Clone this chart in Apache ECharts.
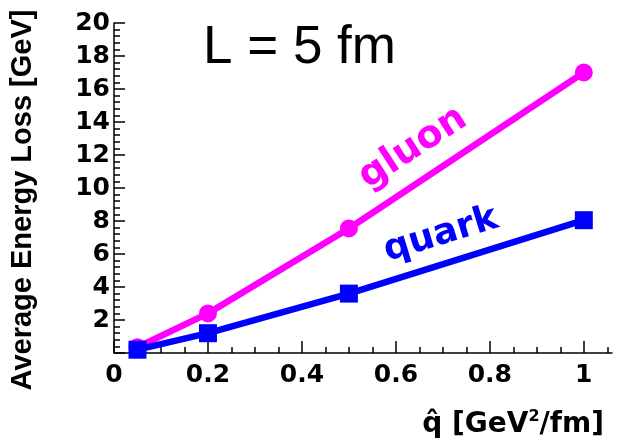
<!DOCTYPE html>
<html>
<head>
<meta charset="utf-8">
<script src="https://cdn.jsdelivr.net/npm/echarts@6/dist/echarts.min.js"></script>
<style>
html,body{margin:0;padding:0;background:#fff;}
#chart{width:642px;height:441px;}
</style>
</head>
<body>
<div id="chart"></div>
<script>
// Data
var qhat = [0.05, 0.2, 0.5, 1.0];
var gluonLoss = [0.35, 2.4, 7.55, 17.0];
var quarkLoss = [0.2, 1.2, 3.6, 8.05];
var xMajorTicks = [0, 0.2, 0.4, 0.6, 0.8, 1];
var xMinorTicks = [0.05, 0.1, 0.15, 0.25, 0.3, 0.35, 0.45, 0.5, 0.55, 0.65, 0.7, 0.75, 0.85, 0.9, 0.95, 1.05];

var chart = echarts.init(document.getElementById('chart'), null, {renderer: 'canvas'});

function pairs(xs, ys) { return xs.map(function (x, i) { return [x, ys[i]]; }); }

var tickFont = 'DejaVu Sans';
var option = {
  backgroundColor: '#ffffff',
  animation: false,
  grid: {left: 107, right: 30, top: 23, bottom: 88, containLabel: false},
  xAxis: [{
    type: 'value', min: 0, max: 1.06, interval: 0.2, position: 'bottom',
    name: 'q\u0302 [GeV{sup|2}/fm]',
    nameLocation: 'end', nameGap: -8,
    nameTextStyle: {
      fontFamily: tickFont, fontWeight: 'bold', fontSize: 28, color: '#000',
      align: 'right', verticalAlign: 'top', padding: [56, 0, 0, 0],
      rich: {sup: {fontFamily: tickFont, fontWeight: 'bold', fontSize: 16, color: '#000', verticalAlign: 'bottom', padding: [0, 0, 15, 0]}}
    },
    axisLine: {show: true, onZero: false, lineStyle: {color: '#000', width: 1.5}},
    axisTick: {show: true, inside: true, length: 12, customValues: xMajorTicks, lineStyle: {color: '#000', width: 1.5}},
    axisLabel: {show: true, customValues: xMajorTicks, margin: 10, fontFamily: tickFont, fontWeight: 'bold', fontSize: 25, color: '#000'},
    splitLine: {show: false}
  }, {
    type: 'value', min: 0, max: 1.06, position: 'bottom',
    axisLine: {show: false},
    axisTick: {show: true, inside: true, length: 6, customValues: xMinorTicks, lineStyle: {color: '#000', width: 1.5}},
    axisLabel: {show: false},
    splitLine: {show: false}
  }],
  yAxis: {
    type: 'value', min: 0, max: 20, interval: 2,
    name: 'Average Energy Loss [GeV]',
    nameLocation: 'middle', nameGap: 77, nameRotate: 90,
    nameTextStyle: {fontFamily: 'Liberation Sans', fontWeight: 'bold', fontSize: 29, color: '#000', padding: [0, 24, 0, 0]},
    axisLine: {show: true, lineStyle: {color: '#000', width: 1.5}},
    axisTick: {show: true, inside: true, length: 11, lineStyle: {color: '#000', width: 1.5}},
    minorTick: {show: true, splitNumber: 5, length: 6, lineStyle: {color: '#000', width: 1.5}},
    axisLabel: {margin: 4, fontFamily: tickFont, fontWeight: 'bold', fontSize: 25, color: '#000',
      formatter: function (v) { return v === 0 ? '' : String(v); }},
    splitLine: {show: false}
  },
  series: [{
    name: 'gluon', type: 'line', data: pairs(qhat, gluonLoss),
    symbol: 'circle', symbolSize: 18,
    lineStyle: {color: '#ff00ff', width: 6.5},
    itemStyle: {color: '#ff00ff'},
    z: 2
  }, {
    name: 'quark', type: 'line', data: pairs(qhat, quarkLoss),
    symbol: 'rect', symbolSize: 18,
    lineStyle: {color: '#0000ff', width: 6.5},
    itemStyle: {color: '#0000ff'},
    z: 3
  }],
  graphic: [{
    type: 'text', x: 203, y: 48,
    style: {text: 'L = 5 fm', fontFamily: 'Liberation Sans', fontSize: 53, fill: '#000', textAlign: 'left', textVerticalAlign: 'middle'}
  }, {
    type: 'text', x: 413, y: 148, rotation: 33 * Math.PI / 180,
    style: {text: 'gluon', fontFamily: tickFont, fontWeight: 'bold', fontSize: 38, fill: '#ff00ff', textAlign: 'center', textVerticalAlign: 'middle'}
  }, {
    type: 'text', x: 441, y: 235, rotation: 17 * Math.PI / 180,
    style: {text: 'quark', fontFamily: tickFont, fontWeight: 'bold', fontSize: 36, fill: '#0000ff', textAlign: 'center', textVerticalAlign: 'middle'}
  }]
};
chart.setOption(option);
</script>
</body>
</html>
